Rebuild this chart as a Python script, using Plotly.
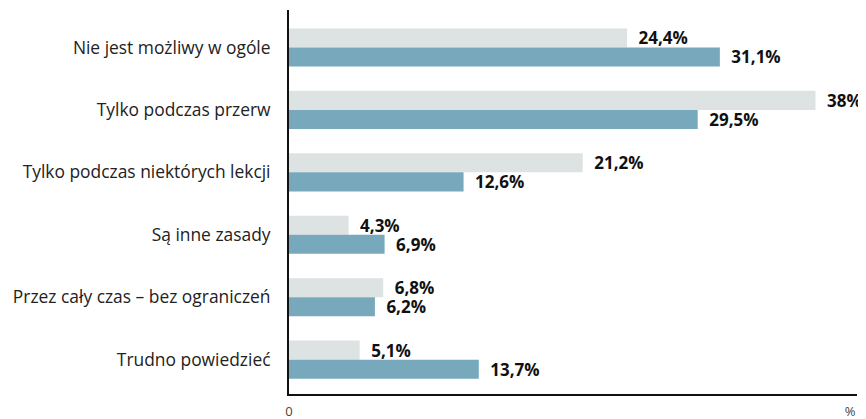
import plotly.graph_objects as go

categories = [
    "Nie jest możliwy w ogóle",
    "Tylko podczas przerw",
    "Tylko podczas niektórych lekcji",
    "Są inne zasady",
    "Przez cały czas – bez ograniczeń",
    "Trudno powiedzieć",
]
series_a = [24.4, 38.0, 21.2, 4.3, 6.8, 5.1]
series_b = [31.1, 29.5, 12.6, 6.9, 6.2, 13.7]

x_tick_vals = [0, 40.5]
x_tick_text = ["0", "%"]

GRAY = "#dde2e2"
BLUE = "#77a8bb"


def pct(v):
    return "\u2002" + f"{v:g}".replace(".", ",") + "%"


fig = go.Figure()
for vals, color in [(series_a, GRAY), (series_b, BLUE)]:
    fig.add_trace(go.Bar(
        y=categories, x=vals, orientation="h",
        marker=dict(color=color, line=dict(width=0)),
        text=[pct(v) for v in vals], textposition="outside",
        constraintext="none",
        textfont=dict(family="Open Sans", size=17, color="#111111", weight="bold"),
        cliponaxis=False, showlegend=False, hoverinfo="skip",
    ))

# page has an 8px body margin, so the figure is sized 8px smaller
fig.update_layout(
    width=858, height=411,
    margin=dict(l=281, r=9, t=2, b=25, autoexpand=False),
    barmode="group", bargap=0.39, bargroupgap=0,
    plot_bgcolor="white", paper_bgcolor="white",
)
fig.update_xaxes(
    range=[0, 41], tickvals=x_tick_vals, ticktext=x_tick_text,
    showgrid=False, zeroline=False, automargin=False,
    showline=True, linecolor="#111111", linewidth=2,
    ticks="", ticklabelstandoff=4,
    tickfont=dict(family="Open Sans", size=13, color="#444444"),
)
fig.update_yaxes(
    range=[5.55, -0.6], showgrid=False, zeroline=False, automargin=False,
    showline=True, linecolor="#111111", linewidth=2,
    ticks="", ticklabelstandoff=13,
    tickfont=dict(family="Open Sans", size=17.4, color="#222222"),
)

fig.write_html("out.html")
